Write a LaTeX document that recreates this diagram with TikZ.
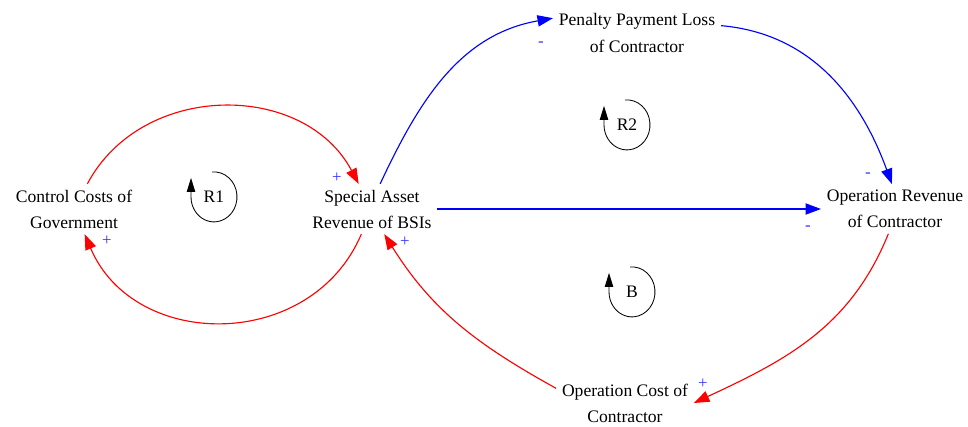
\documentclass[tikz,border=0pt]{standalone}
\usepackage{fontspec}
\setmainfont{Liberation Serif}
\usepackage{tikz}
\usetikzlibrary{arrows.meta}
\tikzstyle{var}=[align=center,inner sep=4pt,font=\fontsize{12.5}{18.5}\selectfont]
\tikzstyle{sign}=[text=blue!80,inner sep=0pt,font=\fontsize{12}{12}\selectfont]
\tikzstyle{loopname}=[inner sep=0pt,font=\fontsize{12.5}{14}\selectfont]
\tikzstyle{link} = [draw,line width=0.8pt,-{Triangle[length=11pt,width=8pt]}]

\begin{document}
\begin{tikzpicture}[x=0.025cm,y=0.025cm]
  \tikzset{redlink/.style = {link,red}, bluelink/.style = {link,blue},
    loopmark/.style = {draw,line width=0.6pt,-{Triangle[length=10pt,width=6pt]}}}
  \useasboundingbox (0,0) rectangle (968,427);
  \node[var] (ctrl) at (74,218) {Control Costs of\\Government};
  \node[var] (bsi) at (372,218) {Special Asset\\Revenue of BSIs};
  \node[var] (pen) at (637,394) {Penalty Payment Loss\\of Contractor};
  \node[var] (orev) at (895,218) {Operation Revenue\\of Contractor};
  \node[var] (ocost) at (625,24) {Operation Cost of\\Contractor};
    \draw[redlink] (ctrl) to[bend left=62,looseness=1.1] (bsi);
    \draw[redlink] (bsi) to[bend left=67,looseness=1.18] (ctrl);
    \draw[bluelink] (bsi.72) to[out=65,in=190] (pen.170);
    \draw[bluelink] (pen.5) to[out=-5,in=110] (orev.97);
    \draw[bluelink] (bsi) -- (orev);
    \draw[redlink] (orev.-105) to[out=-112,in=25] (ocost.east);
    \draw[redlink] (ocost.168) to[out=151,in=-58] (bsi.-64);
  % polarities
  \node[sign] (s1) at (337,249) {+};
  \node[sign] (s2) at (107,186) {+};
  \node[sign] (s3) at (405,185) {+};
  \node[sign] (s4) at (541,383) {-};
  \node[sign] (s5) at (868,252) {-};
  \node[sign] (s6) at (808,199) {-};
  \node[sign] (s7) at (703,43) {+};
  % loops
  \node[loopname] (r1) at (214,230) {R1};
  \node[loopname] (r2) at (627,302) {R2};
  \node[loopname] (b) at (632,135) {B};
  \foreach \n in {r1,r2,b}
    \draw[loopmark] (\n.center) ++(-2,25) arc[start angle=95,end angle=-180,x radius=23,y radius=25] -- ++(0,19);
\end{tikzpicture}
\end{document}
